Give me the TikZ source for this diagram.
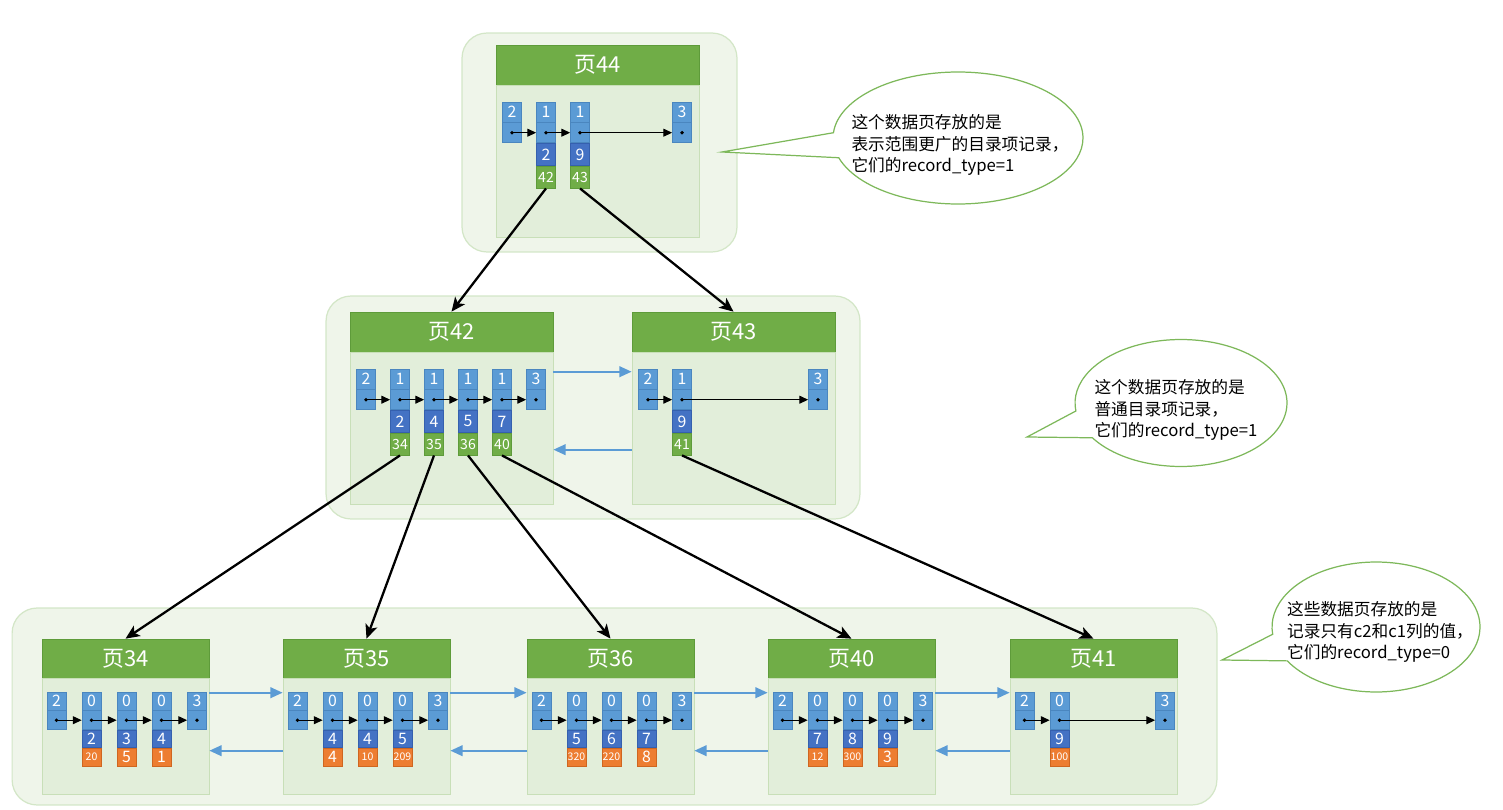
\documentclass[tikz,border=0pt]{standalone}
\usepackage{fontspec}
\setmainfont{Noto Sans CJK SC}
\usepackage{xcolor}
\usetikzlibrary{positioning,arrows.meta,shapes.callouts}

\definecolor{grpfill}{HTML}{EFF5EA}
\definecolor{grpline}{HTML}{D3E6C7}
\definecolor{bodyfill}{HTML}{E2EEDA}
\definecolor{bodyline}{HTML}{C8DFB8}
\definecolor{headfill}{HTML}{70AD47}
\definecolor{headline}{HTML}{5E9B3A}
\definecolor{lblue}{HTML}{5B9BD5}
\definecolor{lbline}{HTML}{4A86BF}
\definecolor{dblue}{HTML}{4472C4}
\definecolor{dbline}{HTML}{3560AE}
\definecolor{orfill}{HTML}{ED7D31}
\definecolor{orline}{HTML}{CF6620}
\definecolor{sibblue}{HTML}{5B9BD5}
\definecolor{bubline}{HTML}{7DB85A}

\newcommand{\sm}[1]{{\fontsize{6}{6}\selectfont #1}}

\tikzset{
  grp/.style={draw=grpline, fill=grpfill, line width=0.7pt, rounded corners=0.5cm},
  head/.style={draw=headline, fill=headfill, text=white, font=\fontsize{12.5}{14}\selectfont,
    minimum width=4.06cm, minimum height=0.8cm, inner sep=0pt},
  body/.style={draw=bodyline, fill=bodyfill, minimum width=4.06cm, minimum height=3.04cm, inner sep=0pt},
  cell/.style={draw=lbline, fill=lblue, text=white, minimum width=0.38cm, minimum height=0.4cm,
    inner sep=0pt, font=\fontsize{9}{9}\selectfont},
  keycell/.style={cell, draw=dbline, fill=dblue, minimum height=0.44cm},
  kidcell/.style={cell, draw=headline, fill=headfill, minimum height=0.44cm, font=\fontsize{8}{8}\selectfont},
  valcell/.style={cell, draw=orline, fill=orfill, minimum height=0.36cm},
  nextrec/.style={-{Triangle[length=5pt,width=4.5pt]}, line width=0.6pt},
  levelarrow/.style={-{Stealth[length=8pt,width=7pt,inset=2pt]}, line width=1.3pt},
  siblink/.style={-{Triangle[length=7pt,width=6pt]}, line width=1.3pt, draw=sibblue},
  bubble/.style={ellipse callout, draw=bubline, fill=white, line width=0.7pt},
  note/.style={align=left, font=\fontsize{9.5}{12.2}\selectfont, inner sep=0pt}
}

\begin{document}
\begin{tikzpicture}[x=0.02cm, y=-0.02cm]
  \useasboundingbox (0,0) rectangle (1503,810);

  % levels
  \node[grp, minimum width=5.5cm, minimum height=4.38cm] (lvl2) at (599.5,142.5) {};
  \node[grp, minimum width=10.68cm, minimum height=4.46cm] (lvl1) at (593,407.5) {};
  \node[grp, minimum width=24.1cm, minimum height=3.94cm] (lvl0) at (614.5,706.5) {};

  % directory pages
  \foreach \pg/\L/\T/\n/\recs in {44/496/102/2/{2/42,9/43}, 42/350/369/4/{2/34,4/35,5/36,7/40}, 43/632/369/1/{9/41}}{
    \node[head] (h\pg) at (\L+101.5,\T-37) {页\pg};
    \node[body, below=0pt of h\pg] (b\pg) {};
    \node[cell] (p\pg-0) at (\L+16,\T+10) {2};
    \node[cell, below=0pt of p\pg-0] (p\pg-0-p) {};
    \node[cell] (p\pg-s) at (\L+186,\T+10) {3};
    \node[cell, below=0pt of p\pg-s] (p\pg-s-p) {};
    \foreach \k/\c [count=\j] in \recs{
      \pgfmathtruncatemacro\prev{\j-1}
      \node[cell] (p\pg-\j) at (\L+16+34*\j,\T+10) {1};
      \node[cell, below=0pt of p\pg-\j] (p\pg-\j-p) {};
      \node[keycell, below=0pt of p\pg-\j-p] (p\pg-\j-k) {\k};
      \node[kidcell, below=0pt of p\pg-\j-k] (p\pg-\j-c) {\c};
      \draw[nextrec] (p\pg-\prev-p.center) -- (p\pg-\j-p.west);
    }
    \draw[nextrec] (p\pg-\n-p.center) -- (p\pg-s-p.west);
    \foreach \i in {0,...,\n,s}
      \fill (p\pg-\i-p.center) circle (1.1pt);
  }

  % leaf pages
  \foreach \pg/\L/\n/\recs in {34/42/3/{2/\sm{20},3/5,4/1}, 35/283/3/{4/4,4/\sm{10},5/\sm{209}},
      36/527/3/{5/\sm{320},6/\sm{220},7/8}, 40/768/3/{7/\sm{12},8/\sm{300},9/3}, 41/1010/1/{9/\sm{100}}}{
    \node[head, minimum width=3.34cm, minimum height=0.78cm] (h\pg) at (\L+83.5,658.5) {页\pg};
    \node[body, minimum width=3.34cm, minimum height=2.32cm, below=0pt of h\pg] (b\pg) {};
    \node[cell, minimum height=0.36cm] (p\pg-0) at (\L+14.5,701) {2};
    \node[cell, minimum height=0.38cm, below=0pt of p\pg-0] (p\pg-0-p) {};
    \node[cell, minimum height=0.36cm] (p\pg-s) at (\L+155,701) {3};
    \node[cell, minimum height=0.38cm, below=0pt of p\pg-s] (p\pg-s-p) {};
    \foreach \k/\v [count=\j] in \recs{
      \pgfmathtruncatemacro\prev{\j-1}
      \node[cell, minimum height=0.36cm] (p\pg-\j) at (\L+14.5+35*\j,701) {0};
      \node[cell, minimum height=0.38cm, below=0pt of p\pg-\j] (p\pg-\j-p) {};
      \node[keycell, minimum height=0.34cm, below=0pt of p\pg-\j-p] (p\pg-\j-k) {\k};
      \node[valcell, below=0pt of p\pg-\j-k] (p\pg-\j-v) {\v};
      \draw[nextrec] (p\pg-\prev-p.center) -- (p\pg-\j-p.west);
    }
    \draw[nextrec] (p\pg-\n-p.center) -- (p\pg-s-p.west);
    \foreach \i in {0,...,\n,s}
      \fill (p\pg-\i-p.center) circle (1.1pt);
  }

  % sibling links
  \draw[siblink] ([yshift=1.14cm]b42.east) -- ([yshift=1.14cm]b43.west);
  \draw[siblink] ([yshift=-0.42cm]b43.west) -- ([yshift=-0.42cm]b42.east);
  \foreach \a/\b in {34/35,35/36,36/40,40/41}{
    \draw[siblink] ([yshift=0.88cm]b\a.east) -- ([yshift=0.88cm]b\b.west);
    \draw[siblink] ([yshift=-0.28cm]b\b.west) -- ([yshift=-0.28cm]b\a.east);
  }

  % child pointers
  \foreach \src/\dst in {p44-1-c/h42, p44-2-c/h43, p42-1-c/h34, p42-2-c/h35, p42-3-c/h36, p42-4-c/h40, p43-1-c/h41}
    \draw[levelarrow] (\src.south) -- (\dst.north);

  % notes
  \node[bubble, minimum width=5cm, minimum height=2.64cm, callout absolute pointer={(722,152)},
    callout pointer arc=22] (n2) at (958,138) {};
  \node[note] at ([shift={(2,7)}]n2.center) {这个数据页存放的是\\表示范围更广的目录项记录，\\它们的record\_type=1};
  \node[bubble, minimum width=4.24cm, minimum height=2.54cm, callout absolute pointer={(1027,437)},
    callout pointer arc=26] (n1) at (1181,403) {};
  \node[note] at ([shift={(-5,7)}]n1.center) {这个数据页存放的是\\普通目录项记录，\\它们的record\_type=1};
  \node[bubble, minimum width=4.16cm, minimum height=2.6cm, callout absolute pointer={(1222,660)},
    callout pointer arc=25] (n0) at (1376,627) {};
  \node[note] at ([shift={(4,5)}]n0.center) {这些数据页存放的是\\记录只有c2和c1列的值，\\它们的record\_type=0};
\end{tikzpicture}
\end{document}
